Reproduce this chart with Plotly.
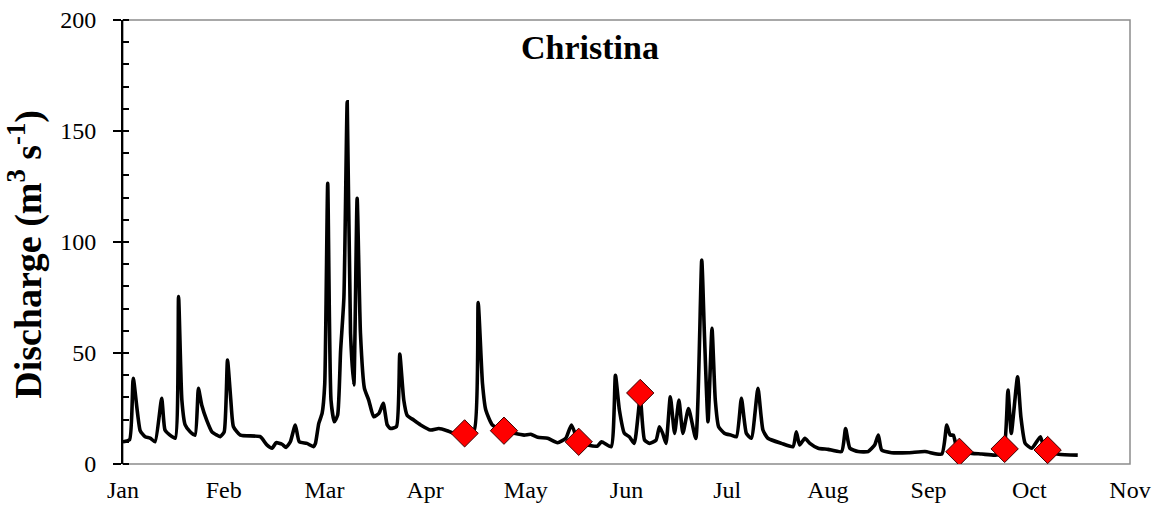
import plotly.graph_objects as go

# Daily discharge trace (day of record, m3/s)
day = [0, 2, 3.1, 5.2, 6.7, 8.2, 9.7, 11.7, 12.7, 14.2, 15.8, 16.8, 17.8, 18.8, 20.3,
       21.8, 22.8, 23.8, 25.3, 26.9, 28.4, 29.4, 30.6, 31.6, 32.6, 33.4, 35.5, 41.5,
       43.5, 45.1, 46.3, 48.1, 49.3, 50.6, 52.1, 53.3, 55.6, 57.6, 58.2, 59.2, 60.2,
       61, 61.9, 62.9, 63.9, 64.9, 65.8, 66.8, 67.8, 68.8, 69.8, 70.8, 71.8, 73, 74.3,
       75.8, 77.4, 78.7, 79.9, 80.9, 82.7, 83.7, 84.9, 85.9, 87.9, 90, 93, 95.5, 98,
       100, 103.3, 106.2, 107.4, 108.7, 109.7, 111.7, 115.2, 118.3, 121.3, 123.3,
       125.4, 128.4, 131.4, 133.9, 135.6, 137.8, 140.5, 143.5, 144.7, 147.6, 148.9,
       150.1, 151.6, 153.1, 154.6, 156.4, 157.7, 159.2, 161.2, 162.2, 163.2, 164.2,
       165.5, 166.8, 168.1, 169.3, 171, 173.2, 175, 175.8, 176.9, 178.1, 179.1, 180.1,
       181.9, 183.9, 185.5, 187, 188.5, 190, 192, 193.5, 195, 199.1, 202.6, 203.6,
       204.6, 206.2, 207.7, 210.2, 213.2, 217.3, 218.5, 219.8, 222.3, 225.3, 227.3,
       228.4, 229.4, 232.4, 237.5, 242.5, 247.6, 249.1, 250.1, 251.1, 252.5, 256.7,
       259.7, 263.7, 266.2, 267.6, 268.6, 270.5, 271.5, 272.8, 274.8, 277.4, 278.4,
       279.6, 282.9, 288.7]
discharge = [10, 11, 38.6, 15, 12.3, 11.7, 10, 29.6, 15.3, 13, 11.6, 75.4, 28.8, 17.6,
             14.5, 13, 34.1, 26.6, 19.8, 14.5, 13, 12.3, 14.5, 46.8, 28.8, 16.8, 13, 12.3,
             8.6, 7.1, 9.6, 8.9, 7.5, 10, 17.6, 10, 9.3, 7.8, 9.3, 18.3, 22.8,
             36, 126.4, 28.8, 19, 22, 51, 75, 163.2, 58.9, 35.6, 119.7, 58.9, 34.1, 28.8,
             21.3, 22.8, 27.3, 17.6, 16, 16.8, 49.5, 28.8, 22, 19.8, 17.6, 15.3, 16, 15,
             13.8, 13.8, 15.3, 72.7, 36.3, 24.3, 17.6, 15, 13.8, 13, 13.4,
             12, 11.6, 9.6, 11.6, 17.6, 10, 8.6, 8.1, 10, 7.8, 40,
             24.3, 13.8, 12.3, 9.3, 30, 10.8, 9.3, 10.8, 16.8, 13.8, 9.3,
             30.3, 13.8, 28.8, 13.8, 25, 11.5, 91.9, 59, 19, 61.1, 28.8, 16.8,
             13.8, 13, 12.3, 29.6, 13.8, 11.6, 34.1, 15.3, 11.6, 9.3, 7.8, 14.5,
             8.6, 11.6, 9.3, 7.1, 6.6, 5.6, 16, 7.1, 5.6, 5.6, 8.6,
             13, 6.3, 5.1, 5.1, 5.6, 4.5, 17.6, 13, 13, 5.5, 4.8,
             4.5, 4, 5, 33.3, 13.8, 39.3, 21.3, 9.3, 7.1, 12.3, 7.8,
             5.5, 4.4, 4]

# Sampling dates
sample_day = [103.3, 115.2, 137.8, 156.4, 252.9, 266.6, 279.6]
sample_q = [13.8, 15, 10, 32, 5.5, 6.8, 6.3]

months = ["Jan", "Feb", "Mar", "Apr", "May", "Jun", "Jul", "Aug", "Sep", "Oct", "Nov"]
month_len = 30.45
month_pos = [i * month_len for i in range(len(months))]

serif = "Liberation Serif"

fig = go.Figure()
fig.add_trace(go.Scatter(
    x=day, y=discharge, mode="lines",
    line=dict(color="black", width=3.6, shape="spline", smoothing=0.5),
    hoverinfo="skip", showlegend=False,
))
fig.add_trace(go.Scatter(
    x=sample_day, y=sample_q, mode="markers",
    marker=dict(symbol="diamond", size=21, color="#ff0000",
                line=dict(color="#3a0000", width=1)),
    showlegend=False,
))

# grey plot frame (left axis drawn in black on top of it)
fig.add_shape(type="rect", xref="paper", yref="paper", x0=0, x1=1, y0=0, y1=1,
              line=dict(color="#8c8c8c", width=1.5), layer="below")

fig.update_layout(
    width=1161, height=515,
    margin=dict(l=123, r=31, t=20, b=51),
    paper_bgcolor="white", plot_bgcolor="white",
    font=dict(family=serif, size=24, color="black"),
    xaxis=dict(
        range=[0, month_len * 10], tickmode="array",
        tickvals=month_pos, ticktext=months, automargin=False,
        showgrid=False, zeroline=False, showline=False, ticks="",
        ticklabelstandoff=9,
        tickfont=dict(family=serif, size=24, color="black"),
    ),
    yaxis=dict(
        range=[0, 200], dtick=50, showgrid=False, zeroline=False, automargin=False,
        showline=True, linecolor="black", linewidth=2,
        ticks="outside", ticklen=8, tickwidth=1.5, tickcolor="black",
        minor=dict(dtick=10, ticks="inside", ticklen=6, tickwidth=1.5,
                   tickcolor="black", showgrid=False),
        ticklabelstandoff=12,
        tickfont=dict(family=serif, size=24, color="black"),
    ),
    annotations=[
        dict(text="Christina", xref="paper", yref="paper",
             x=0.464, y=0.939, xanchor="center", yanchor="middle",
             showarrow=False,
             font=dict(family=serif, size=34, color="black", weight="bold")),
        dict(text="Discharge (m<sup>3</sup> s<sup>-1</sup>)",
             xref="paper", yref="paper", x=-0.0965, y=0.473,
             xanchor="center", yanchor="middle", textangle=-90,
             showarrow=False,
             font=dict(family=serif, size=38, color="black", weight="bold")),
    ],
)

fig.write_html("out.html")
